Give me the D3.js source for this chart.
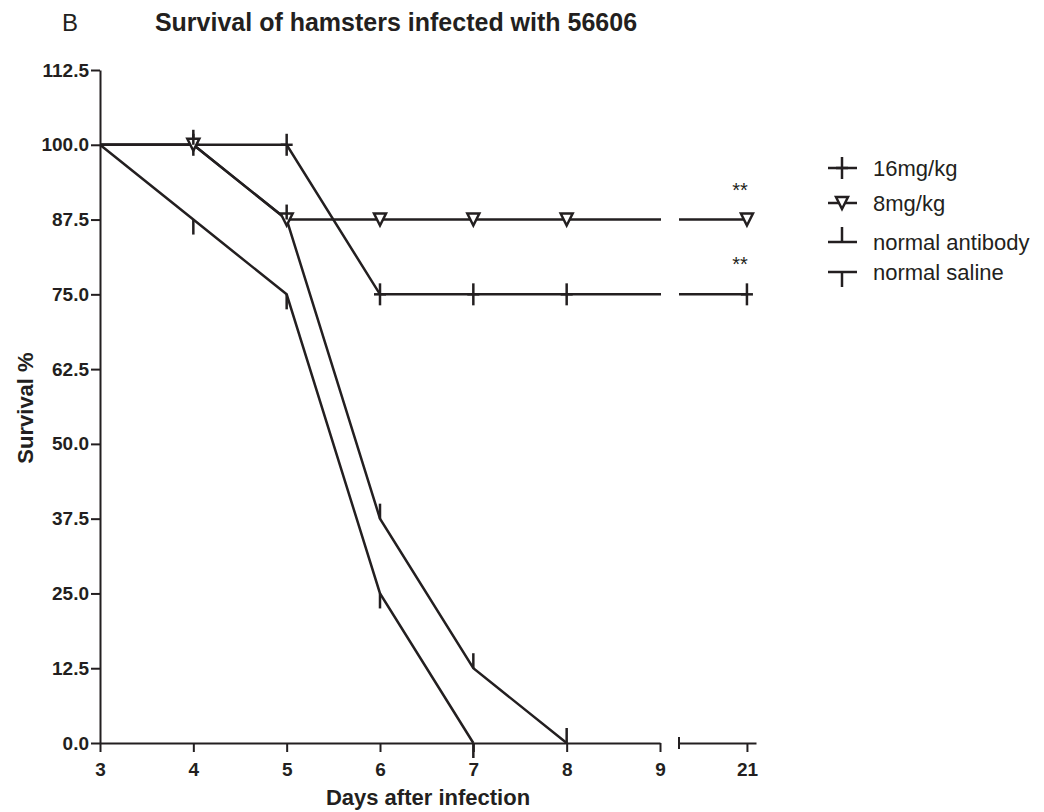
<!DOCTYPE html>
<html>
<head>
<meta charset="utf-8">
<script src="https://cdn.jsdelivr.net/npm/d3@7"></script>
<style>
  body { margin: 0; background: #fff; }
  svg { display: block; font-family: 'Liberation Sans', Arial, sans-serif; }
  .axis path, .axis line { stroke: #231f20; stroke-width: 2; }
  .axis text { fill: #231f20; font-weight: bold; font-family: 'Liberation Sans', Arial, sans-serif; font-size: 19px; }
</style>
</head>
<body>
<div id="chart"></div>
<script>
// survival data
const seriesNames = ['16mg/kg', '8mg/kg', 'normal antibody', 'normal saline'];
const dose16Days = [3, 4, 5, 6, 7, 8, 21];
const dose16Surv = [100, 100, 100, 75, 75, 75, 75];
const dose8Days = [3, 4, 5, 6, 7, 8, 21];
const dose8Surv = [100, 100, 87.5, 87.5, 87.5, 87.5, 87.5];
const antibodyDays = [3, 4, 5, 6, 7, 8];
const antibodySurv = [100, 100, 87.5, 37.5, 12.5, 0];
const salineDays = [3, 4, 5, 6, 7];
const salineSurv = [100, 87.5, 75, 25, 0];

const yTicks = [0, 12.5, 25, 37.5, 50, 62.5, 75, 87.5, 100, 112.5];
const xTicksLeft = [3, 4, 5, 6, 7, 8, 9];
const xTicksRight = [21];
const starLabels = ['**', '**'];
const starSurv = [87.5, 75];

const W = 1044, H = 812;
const INK = '#231f20';

const series = [
  { name: seriesNames[0], days: dose16Days, surv: dose16Surv, mark: 'plus' },
  { name: seriesNames[1], days: dose8Days, surv: dose8Surv, mark: 'tri' },
  { name: seriesNames[2], days: antibodyDays, surv: antibodySurv, mark: 'up' },
  { name: seriesNames[3], days: salineDays, surv: salineSurv, mark: 'down' }
];

const svg = d3.select('#chart').append('svg')
  .attr('width', W).attr('height', H);

const y = d3.scaleLinear().domain([0, 112.5]).range([743, 70]);
const x1 = d3.scaleLinear().domain([3, 9]).range([100, 660]);
const x2 = d3.scaleLinear().domain([20.25, 21.1]).range([679, 756]);
const xOf = d => d <= 9 ? x1(d) : x2(d);

const defs = svg.append('defs');
defs.append('clipPath').attr('id', 'seg1').append('rect')
  .attr('x', 99).attr('y', 0).attr('width', 562).attr('height', H);
defs.append('clipPath').attr('id', 'seg2').append('rect')
  .attr('x', 679).attr('y', 0).attr('width', 80).attr('height', H);

// lines, drawn once per axis segment
[[x1, 'seg1'], [x2, 'seg2']].forEach(([sx, clip]) => {
  const line = d3.line().x(d => sx(d[0])).y(d => y(d[1]));
  svg.append('g').attr('clip-path', `url(#${clip})`)
    .selectAll('path')
    .data(series)
    .join('path')
    .attr('d', s => line(d3.zip(s.days, s.surv)))
    .attr('fill', 'none')
    .attr('stroke', INK)
    .attr('stroke-width', 2.5)
    .attr('stroke-linejoin', 'miter');
});

function drawMark(g, kind) {
  if (kind === 'plus') {
    g.append('line').attr('x1', 0).attr('x2', 0).attr('y1', -11).attr('y2', 11);
    g.append('line').attr('x1', -6).attr('x2', 6).attr('y1', 0).attr('y2', 0);
  } else if (kind === 'tri') {
    g.append('path').attr('d', 'M-6,-6L6,-6L0,6Z').attr('fill', '#fff');
  } else if (kind === 'up') {
    g.append('line').attr('x1', 0).attr('x2', 0).attr('y1', -15).attr('y2', 0);
  } else {
    g.append('line').attr('x1', 0).attr('x2', 0).attr('y1', 0).attr('y2', 15);
  }
}

// markers (none on day 3, they sit on the y axis)
series.forEach(s => {
  d3.zip(s.days, s.surv).filter(p => p[0] > 3).forEach(p => {
    const g = svg.append('g')
      .attr('transform', `translate(${xOf(p[0])},${y(p[1])})`)
      .attr('stroke', INK).attr('stroke-width', 2.5);
    drawMark(g, s.mark);
  });
});

// axes
svg.append('g').attr('class', 'axis')
  .attr('transform', 'translate(100,0)')
  .call(d3.axisLeft(y).tickValues(yTicks).tickSize(9).tickSizeOuter(0)
    .tickPadding(2).tickFormat(d3.format('.1f')));

svg.append('g').attr('class', 'axis')
  .attr('transform', 'translate(0,743)')
  .call(d3.axisBottom(x1).tickValues(xTicksLeft).tickSize(9).tickSizeOuter(0)
    .tickPadding(11).tickFormat(d3.format('d')));

const ax2 = svg.append('g').attr('class', 'axis')
  .attr('transform', 'translate(0,743)')
  .call(d3.axisBottom(x2).tickValues(xTicksRight).tickSize(9).tickSizeOuter(0)
    .tickPadding(11).tickFormat(d3.format('d')));
ax2.append('line').attr('x1', 679).attr('x2', 679).attr('y1', -6).attr('y2', 6);

// significance marks
svg.selectAll('text.star')
  .data(starLabels)
  .join('text')
  .attr('class', 'star')
  .attr('x', x2(21) - 7)
  .attr('y', (d, i) => y(starSurv[i]) - 23)
  .attr('text-anchor', 'middle')
  .attr('fill', INK)
  .style('font-size', '20px')
  .text(d => d);

// titles
svg.append('text').attr('x', 62).attr('y', 31)
  .attr('fill', INK).style('font-size', '24px').text('B');
svg.append('text').attr('x', 396).attr('y', 31)
  .attr('text-anchor', 'middle').attr('fill', INK)
  .style('font-size', '25px').style('font-weight', 'bold')
  .text('Survival of hamsters infected with 56606');
svg.append('text').attr('x', 428).attr('y', 805)
  .attr('text-anchor', 'middle').attr('fill', INK)
  .style('font-size', '22px').style('font-weight', 'bold')
  .text('Days after infection');
svg.append('text')
  .attr('transform', 'translate(33,408) rotate(-90)')
  .attr('text-anchor', 'middle').attr('fill', INK)
  .style('font-size', '22px').style('font-weight', 'bold')
  .text('Survival %');

// legend
const legendBase = [176, 211, 250, 280];
const leg = svg.append('g');
series.forEach((s, i) => {
  const ly = legendBase[i] - 8;
  const g = leg.append('g').attr('stroke', INK).attr('stroke-width', 2.5);
  g.append('line').attr('x1', 828).attr('x2', 857).attr('y1', ly).attr('y2', ly);
  const m = g.append('g').attr('transform', `translate(842,${ly})`);
  drawMark(m, s.mark);
  leg.append('text').attr('x', 873).attr('y', legendBase[i])
    .attr('fill', INK).style('font-size', '22px').text(s.name);
});
</script>
</body>
</html>
